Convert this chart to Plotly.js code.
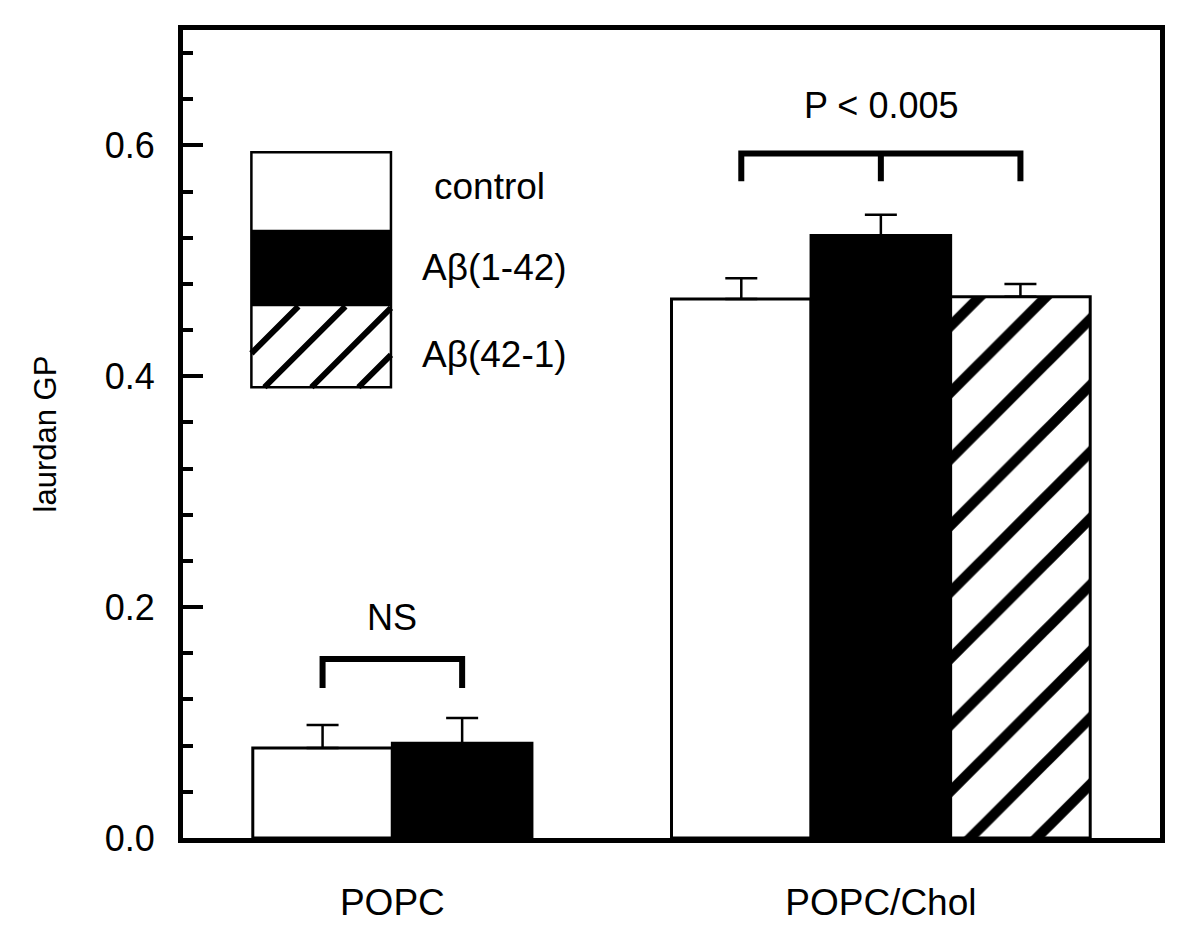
<!DOCTYPE html>
<html><head><meta charset="utf-8">
<script src="https://cdn.plot.ly/plotly-3.0.1.min.js"></script>
<style>body{margin:0;background:#fff}</style>
</head><body><div id="chart" style="width:1200px;height:950px"></div>
<script>
// ---- data ----
const groups = ['POPC', 'POPC/Chol'];
const seriesNames = ['control', 'Aβ(1-42)', 'Aβ(42-1)'];
const controlValues = [0.078, 0.467];
const controlErrors = [0.020, 0.018];
const abeta142Values = [0.082, 0.522];
const abeta142Errors = [0.022, 0.018];
const abeta421Values = [null, 0.469];
const abeta421Errors = [null, 0.011];
const yTickValues = [0, 0.2, 0.4, 0.6];
const yTickLabels = ['0.0', '0.2', '0.4', '0.6'];
const nsLabel = 'NS';
const pLabel = 'P < 0.005';

// ---- layout constants ----
const W = 1200, H = 950;
const M = {l: 183, r: 40, t: 30, b: 112};
const XR = [0, 7], YR = [0, 0.7];
const plotW = W - M.l - M.r, plotH = H - M.t - M.b;
const pxX = plotW / (XR[1] - XR[0]);
const pxY = plotH / (YR[1] - YR[0]);
const groupStart = [1, 4];
const FONT = 'Arial, "Liberation Sans", Helvetica, sans-serif';

const allValues = [controlValues, abeta142Values, abeta421Values];
const allErrors = [controlErrors, abeta142Errors, abeta421Errors];
const styles = [
  {color: 'white'},
  {color: 'black'},
  {color: 'white', pattern: {shape: '/', fgcolor: 'black', bgcolor: 'white', size: 47, solidity: 0.22, fillmode: 'replace'}}
];

const traces = seriesNames.map((name, s) => {
  const xs = [], ys = [], es = [], zs = [];
  groups.forEach((g, gi) => {
    const v = allValues[s][gi];
    if (v === null || v === undefined) return;
    xs.push(groupStart[gi] + s);
    ys.push(v);
    es.push(allErrors[s][gi]);
    zs.push(0);
  });
  return {
    type: 'bar', name: name, x: xs, y: ys, width: 1,
    marker: Object.assign({line: {color: 'black', width: 3}}, styles[s]),
    error_y: {type: 'data', symmetric: false, array: es, arrayminus: zs,
              color: 'black', thickness: 2.5, width: 16},
    showlegend: false, hoverinfo: 'skip'
  };
});

// group label positions = centre of present bars
const groupCenters = groups.map((g, gi) => {
  let xs = [];
  allValues.forEach((arr, s) => { if (arr[gi] !== null) xs.push(groupStart[gi] + s); });
  return (Math.min(...xs) + Math.max(...xs)) / 2;
});

const shapes = [];
const annotations = [];

// significance brackets
function bracket(x1, x2, yTop, drop, mid) {
  const yb = yTop - drop;
  let p = `M${x1},${yb} L${x1},${yTop} L${x2},${yTop} L${x2},${yb}`;
  if (mid !== undefined) p += ` M${mid},${yTop} L${mid},${yb}`;
  shapes.push({type: 'path', xref: 'x', yref: 'y', path: p, line: {color: 'black', width: 6}});
}
bracket(groupStart[0], groupStart[0] + 1, 0.155, 0.025);
bracket(groupStart[1], groupStart[1] + 2, 0.593, 0.024, groupStart[1] + 1);
annotations.push({x: groupCenters[0], y: 0.191, xref: 'x', yref: 'y', text: nsLabel, showarrow: false,
  font: {family: FONT, size: 36, color: 'black'}});
annotations.push({x: groupCenters[1], y: 0.635, xref: 'x', yref: 'y', text: pLabel, showarrow: false,
  font: {family: FONT, size: 36, color: 'black'}});

// custom legend box
const lgX0 = 0.49, lgX1 = 1.49;
const lgY = [0.594, 0.527, 0.4606, 0.3905];
shapes.push({type: 'rect', xref: 'x', yref: 'y', x0: lgX0, x1: lgX1, y0: lgY[1], y1: lgY[0], fillcolor: 'white', line: {width: 0}});
shapes.push({type: 'rect', xref: 'x', yref: 'y', x0: lgX0, x1: lgX1, y0: lgY[2], y1: lgY[1], fillcolor: 'black', line: {width: 0}});
// hatch lines in legend swatch (45 deg in pixel space)
(function () {
  const wpx = (lgX1 - lgX0) * pxX, hpx = (lgY[2] - lgY[3]) * pxY;
  const step = 47;
  let path = '';
  for (let c = -hpx; c < wpx; c += step) {
    let pyStart = Math.max(0, -c), pyEnd = Math.min(hpx, wpx - c);
    if (pyEnd <= pyStart) continue;
    const xa = lgX0 + (c + pyStart) / pxX, ya = lgY[3] + pyStart / pxY;
    const xb = lgX0 + (c + pyEnd) / pxX, yb = lgY[3] + pyEnd / pxY;
    path += `M${xa},${ya} L${xb},${yb} `;
  }
  shapes.push({type: 'path', xref: 'x', yref: 'y', path: path, line: {color: 'black', width: 6}});
})();
shapes.push({type: 'rect', xref: 'x', yref: 'y', x0: lgX0, x1: lgX1, y0: lgY[3], y1: lgY[0], fillcolor: 'rgba(0,0,0,0)', line: {color: 'black', width: 2.5}});
const lgTextX = [1.784, 1.698, 1.698];
const lgTextY = [0.564, 0.494, 0.419];
seriesNames.forEach((n, i) => annotations.push({x: lgTextX[i], y: lgTextY[i], xref: 'x', yref: 'y', xanchor: 'left',
  text: n, showarrow: false, font: {family: FONT, size: 37, color: 'black'}}));

const layout = {
  width: W, height: H, margin: M,
  paper_bgcolor: 'white', plot_bgcolor: 'white',
  barmode: 'overlay',
  font: {family: FONT, color: 'black'},
  xaxis: {range: XR, showline: true, linewidth: 5, linecolor: 'black', mirror: true,
          tickmode: 'array', tickvals: groupCenters, ticktext: groups, ticks: '',
          tickfont: {size: 37, family: FONT}, ticklabelstandoff: 28,
          showgrid: false, zeroline: false, fixedrange: true},
  yaxis: {range: YR, showline: true, linewidth: 5, linecolor: 'black', mirror: true,
          tickmode: 'array', tickvals: yTickValues, ticktext: yTickLabels,
          ticks: 'inside', ticklen: 20, tickwidth: 4, tickcolor: 'black',
          minor: {tick0: 0, dtick: 0.04, ticks: 'inside', ticklen: 10, tickwidth: 4, tickcolor: 'black', showgrid: false},
          tickfont: {size: 36, family: FONT}, ticklabelstandoff: 16,
          title: {text: 'laurdan GP', font: {size: 31, family: FONT}, standoff: 40},
          showgrid: false, zeroline: false, fixedrange: true},
  shapes: shapes, annotations: annotations, showlegend: false
};

Plotly.newPlot('chart', traces, layout, {displayModeBar: false, staticPlot: true});
</script>
</body></html>
